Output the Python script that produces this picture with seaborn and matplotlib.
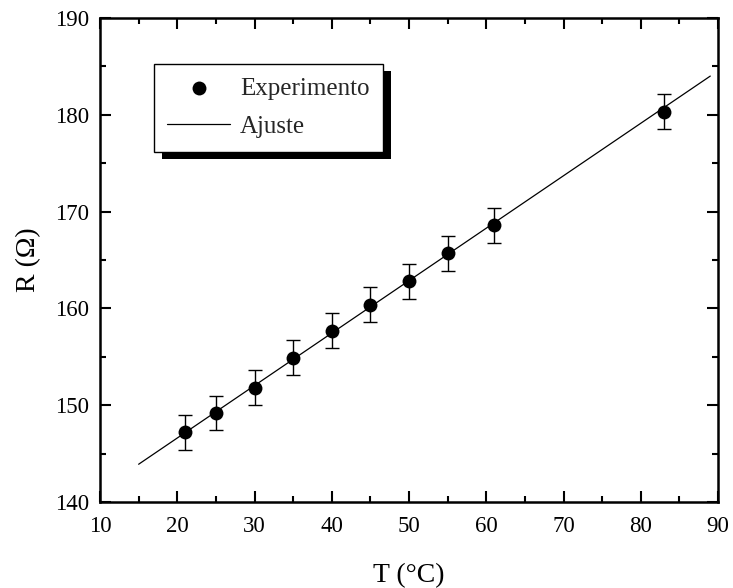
import numpy as np
import pandas as pd
import matplotlib
matplotlib.use("Agg")
import matplotlib.pyplot as plt
import matplotlib.transforms as mtransforms
from matplotlib.patches import Rectangle
from matplotlib.ticker import MultipleLocator
import seaborn as sns

# ---- data ----
T_exp = [21, 25, 30, 35, 40, 45, 50, 55, 61, 83]
R_exp = [147.2, 149.2, 151.8, 154.9, 157.7, 160.4, 162.8, 165.7, 168.6, 180.3]
R_err = [1.8, 1.8, 1.8, 1.8, 1.8, 1.8, 1.8, 1.8, 1.8, 1.8]
T_fit = [15, 89]
R_fit = [143.9, 184.0]
x_ticks = [10, 20, 30, 40, 50, 60, 70, 80, 90]
y_ticks = [140, 150, 160, 170, 180, 190]

sns.set_theme(style="ticks")
plt.rcParams['font.family'] = ['Liberation Serif', 'DejaVu Serif']

fig, ax = plt.subplots(figsize=(7.33, 5.88), dpi=100)
fig.subplots_adjust(left=100/733, right=718/733, top=1-18/588, bottom=1-502/588)

df_exp = pd.DataFrame({"T": T_exp, "R": R_exp})
df_fit = pd.DataFrame({"T": T_fit, "R": R_fit})

ax.errorbar(T_exp, R_exp, yerr=R_err, fmt='none', ecolor='black',
            elinewidth=1.0, capsize=4.7, capthick=1.0, zorder=2)
sns.scatterplot(data=df_exp, x="T", y="R", ax=ax, color='black', s=100,
                edgecolor='black', linewidth=0, label="Experimento", zorder=3)
sns.lineplot(data=df_fit, x="T", y="R", ax=ax, color='black', linewidth=0.9,
             label="Ajuste", zorder=2)

ax.set_xlim(10, 90)
ax.set_ylim(140, 190)
ax.set_xticks(x_ticks)
ax.set_yticks(y_ticks)
ax.xaxis.set_minor_locator(MultipleLocator(5))
ax.yaxis.set_minor_locator(MultipleLocator(5))
ax.tick_params(which='both', direction='in', top=True, right=True, width=1.5,
               color='black', labelsize=16.5, labelcolor='black')
ax.tick_params(which='major', length=8)
ax.tick_params(which='minor', length=4)
ax.tick_params(axis='y', which='major', pad=8)
ax.tick_params(axis='x', which='major', pad=10)
for sp in ax.spines.values():
    sp.set_linewidth(1.8)
    sp.set_color('black')

ax.set_xlabel("T (°C)", fontsize=20, color='black', labelpad=19)
ax.set_ylabel("R (Ω)", fontsize=20, color='black', labelpad=10)

leg = ax.legend(loc='upper left', bbox_to_anchor=(0.087, 0.905), borderaxespad=0,
                fontsize=18, frameon=True, fancybox=False, framealpha=1,
                edgecolor='black', borderpad=0.54, labelspacing=0.63,
                handlelength=2.5, handletextpad=0.4, markerscale=1.0)
leg.get_frame().set_linewidth(1.0)
leg.set_zorder(5)

fig.canvas.draw()
bb = leg.get_window_extent()
shadow = Rectangle((bb.x0 + 8, bb.y0 - 7), bb.width, bb.height,
                   transform=mtransforms.IdentityTransform(), facecolor='black',
                   edgecolor='none', zorder=4.5, clip_on=False)
ax.add_artist(shadow)

fig.savefig("out.png", dpi=100)
